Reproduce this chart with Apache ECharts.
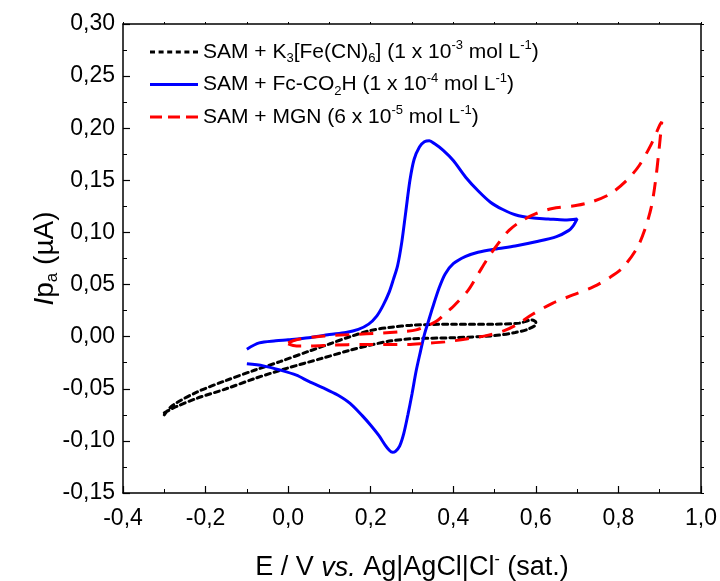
<!DOCTYPE html>
<html>
<head>
<meta charset="utf-8">
<script src="https://cdn.jsdelivr.net/npm/echarts@6/dist/echarts.min.js"></script>
<style>
  html, body { margin: 0; padding: 0; background: #fff; }
  #chart { width: 720px; height: 581px; }
</style>
</head>
<body>
<div id="chart"></div>
<script>
// Cyclic voltammograms: potential (V) vs. current (µA)
const seriesNames = ['K3[Fe(CN)6]', 'Fc-CO2H', 'MGN'];

// SAM + K3[Fe(CN)6]: forward sweep then return sweep
const ferriPotential = [-0.30, -0.28, -0.22, -0.15, -0.08, -0.02, 0.05, 0.10, 0.15, 0.20, 0.25, 0.30, 0.40, 0.50, 0.56, 0.59, 0.60,
  0.60, 0.58, 0.55, 0.50, 0.40, 0.30, 0.25, 0.20, 0.15, 0.08, 0.00, -0.08, -0.15, -0.22, -0.27, -0.30];
const ferriCurrent = [-0.075, -0.066, -0.053, -0.042, -0.032, -0.024, -0.014, -0.007, 0.000, 0.006, 0.009, 0.011, 0.012, 0.012, 0.013, 0.016, 0.014,
  0.012, 0.007, 0.004, 0.001, -0.001, -0.002, -0.004, -0.008, -0.013, -0.021, -0.030, -0.040, -0.050, -0.059, -0.067, -0.073];

// SAM + Fc-CO2H
const fcPotential = [-0.10, -0.07, -0.03, 0.00, 0.05, 0.10, 0.14, 0.17, 0.195, 0.215, 0.23, 0.245, 0.255, 0.265, 0.275, 0.285, 0.295, 0.305, 0.318, 0.330, 0.342,
  0.355, 0.375, 0.40, 0.43, 0.46, 0.49, 0.52, 0.55, 0.59, 0.63, 0.67, 0.70,
  0.69, 0.68, 0.65, 0.60, 0.55, 0.50, 0.46, 0.43, 0.40, 0.38, 0.365, 0.35, 0.34, 0.33, 0.32, 0.31, 0.30, 0.29, 0.28, 0.27, 0.26, 0.253,
  0.245, 0.235, 0.22, 0.20, 0.18, 0.15, 0.12, 0.09, 0.05, 0.02, -0.02, -0.06, -0.10];
const fcCurrent = [-0.012, -0.006, -0.004, -0.003, -0.001, 0.002, 0.004, 0.007, 0.012, 0.020, 0.030, 0.043, 0.055, 0.068, 0.090, 0.120, 0.150, 0.170, 0.182, 0.187, 0.188,
  0.185, 0.179, 0.169, 0.153, 0.140, 0.129, 0.122, 0.117, 0.114, 0.113, 0.112, 0.113,
  0.106, 0.102, 0.096, 0.091, 0.087, 0.084, 0.081, 0.077, 0.070, 0.060, 0.046, 0.028, 0.015, 0.002, -0.015, -0.033, -0.055, -0.075, -0.093, -0.105, -0.110, -0.111,
  -0.109, -0.104, -0.095, -0.085, -0.076, -0.064, -0.056, -0.050, -0.043, -0.037, -0.032, -0.028, -0.026];

// SAM + MGN
const mgnPotential = [0.00, 0.02, 0.07, 0.15, 0.23, 0.28, 0.31, 0.34, 0.36, 0.38, 0.40, 0.435, 0.46, 0.485, 0.51, 0.535, 0.565, 0.60, 0.64, 0.70, 0.74, 0.78, 0.82, 0.85, 0.88, 0.90, 0.905,
  0.898, 0.89, 0.88, 0.865, 0.845, 0.81, 0.78, 0.74, 0.69, 0.64, 0.59, 0.56, 0.525, 0.485, 0.435, 0.38, 0.33, 0.29, 0.23, 0.18, 0.11, 0.05, 0.02, 0.00];
const mgnCurrent = [-0.006, -0.003, 0.000, 0.002, 0.0035, 0.005, 0.0065, 0.011, 0.015, 0.022, 0.029, 0.044, 0.060, 0.076, 0.090, 0.102, 0.111, 0.118, 0.123, 0.126, 0.130, 0.137, 0.150, 0.164, 0.185, 0.203, 0.206,
  0.178, 0.150, 0.125, 0.104, 0.085, 0.066, 0.057, 0.048, 0.040, 0.032, 0.021, 0.013, 0.006, 0.0015, -0.002, -0.005, -0.0065, -0.0075, -0.0075, -0.0075, -0.008, -0.009, -0.009, -0.007];

const xTickValues = [-0.4, -0.2, 0.0, 0.2, 0.4, 0.6, 0.8, 1.0];
const yTickValues = [-0.15, -0.10, -0.05, 0.00, 0.05, 0.10, 0.15, 0.20, 0.25, 0.30];

const legendLabels = {
  'K3[Fe(CN)6]': '{b|SAM + K}{sub|3}{b|[Fe(CN)}{sub|6}{b|] (1 x 10}{sup|-3}{b| mol L}{sup|-1}{b|)}',
  'Fc-CO2H': '{b|SAM + Fc-CO}{sub|2}{b|H (1 x 10}{sup|-4}{b| mol L}{sup|-1}{b|)}',
  'MGN': '{b|SAM + MGN (6 x 10}{sup|-5}{b| mol L}{sup|-1}{b|)}'
};

// legend keys drawn as short line samples (dotted, solid, dashed)
const legendIcons = {
  'K3[Fe(CN)6]': 'path://M0,0h5v3h-5z M8.6,0h5v3h-5z M17.2,0h5v3h-5z M25.8,0h5v3h-5z M34.4,0h5v3h-5z M43,0h5v3h-5z',
  'Fc-CO2H': 'path://M0,0h48v3h-48z',
  'MGN': 'path://M0,0h12v3h-12z M18,0h12v3h-12z M36,0h12v3h-12z'
};

function pairs(xs, ys) { return xs.map((x, i) => [x, ys[i]]); }

const FONT = '"Liberation Sans", Arial, sans-serif';
const chart = echarts.init(document.getElementById('chart'), null, { renderer: 'canvas' });

const richText = {
  b: { fontFamily: FONT, fontSize: 21, color: '#000', lineHeight: 26, verticalAlign: 'middle' },
  sub: { fontFamily: FONT, fontSize: 13, color: '#000', lineHeight: 13, verticalAlign: 'bottom' },
  sup: { fontFamily: FONT, fontSize: 13, color: '#000', lineHeight: 13, verticalAlign: 'top' }
};

const fmtX = v => (Math.abs(v) < 1e-9 ? 0 : v).toFixed(1).replace('.', ',');
const fmtY = v => (Math.abs(v) < 1e-9 ? 0 : v).toFixed(2).replace('.', ',');

chart.setOption({
  animation: false,
  backgroundColor: '#fff',
  grid: { left: 123, top: 24, width: 578, height: 469, containLabel: false, outerBoundsMode: 'none' },
  legend: {
    orient: 'vertical',
    left: 145,
    top: 34,
    itemWidth: 48,
    itemHeight: 3,
    itemGap: 6.5,
    data: seriesNames.map(n => ({ name: n, icon: legendIcons[n] })),
    formatter: name => legendLabels[name],
    textStyle: { rich: richText }
  },
  xAxis: [
    {
      type: 'value', position: 'bottom', min: -0.4, max: 1.0, interval: 0.2,
      axisLine: { onZero: false, lineStyle: { color: '#000', width: 1.5 } },
      axisTick: { inside: true, length: 7, lineStyle: { color: '#000', width: 1.2 } },
      minorTick: { show: true, splitNumber: 2, length: 4, lineStyle: { color: '#000', width: 1 } },
      splitLine: { show: false },
      axisLabel: {
        fontFamily: FONT, fontSize: 23, color: '#000', margin: 14,
        formatter: v => xTickValues.some(t => Math.abs(t - v) < 1e-9) ? fmtX(v) : ''
      },
      name: '{b|E / V }{it|vs.}{b| Ag|AgCl|Cl}{sup|-}{b| (sat.)}',
      nameLocation: 'middle',
      nameGap: 59,
      nameMoveOverlap: false,
      nameTextStyle: {
        rich: {
          b: { fontFamily: FONT, fontSize: 27, color: '#000', lineHeight: 32, verticalAlign: 'middle' },
          it: { fontFamily: FONT, fontSize: 27, fontStyle: 'italic', color: '#000', lineHeight: 32, verticalAlign: 'middle' },
          sup: { fontFamily: FONT, fontSize: 16, color: '#000', lineHeight: 16, verticalAlign: 'top' }
        }
      }
    },
    {
      type: 'value', position: 'top', min: -0.4, max: 1.0, interval: 0.1,
      axisLine: { onZero: false, lineStyle: { color: '#000', width: 1.5 } },
      axisTick: { inside: false, length: 2, lineStyle: { color: '#000', width: 1 } },
      axisLabel: { show: false },
      splitLine: { show: false }
    }
  ],
  yAxis: [
    {
      type: 'value', position: 'left', min: -0.15, max: 0.30, interval: 0.05,
      axisLine: { onZero: false, lineStyle: { color: '#000', width: 1.5 } },
      axisTick: { inside: true, length: 7, lineStyle: { color: '#000', width: 1.2 } },
      minorTick: { show: true, splitNumber: 2, length: 4, lineStyle: { color: '#000', width: 1 } },
      splitLine: { show: false },
      axisLabel: {
        fontFamily: FONT, fontSize: 23, color: '#000', margin: 8,
        formatter: v => yTickValues.some(t => Math.abs(t - v) < 1e-9) ? fmtY(v) : ''
      },
      name: '{i|I}{b|p}{sub|a}{b| (µA)}',
      nameLocation: 'middle',
      nameRotate: 90,
      nameGap: 62,
      nameMoveOverlap: false,
      nameTextStyle: {
        rich: {
          b: { fontFamily: FONT, fontSize: 28, color: '#000', lineHeight: 32, verticalAlign: 'middle' },
          i: { fontFamily: FONT, fontSize: 28, fontStyle: 'italic', color: '#000', lineHeight: 32, verticalAlign: 'middle' },
          sub: { fontFamily: FONT, fontSize: 17, color: '#000', lineHeight: 17, verticalAlign: 'bottom' }
        }
      }
    },
    {
      type: 'value', position: 'right', min: -0.15, max: 0.30, interval: 0.025,
      axisLine: { onZero: false, lineStyle: { color: '#000', width: 1.5 } },
      axisTick: { inside: false, length: 3, lineStyle: { color: '#000', width: 1 } },
      axisLabel: { show: false },
      splitLine: { show: false }
    }
  ],
  series: [
    {
      name: seriesNames[0], type: 'line', symbol: 'none', smooth: 0.3,
      data: pairs(ferriPotential, ferriCurrent),
      lineStyle: { color: '#000', width: 3, type: [5, 4], cap: 'round' },
      itemStyle: { color: '#000' }
    },
    {
      name: seriesNames[1], type: 'line', symbol: 'none', smooth: 0.3,
      data: pairs(fcPotential, fcCurrent),
      lineStyle: { color: '#0000ff', width: 3, type: 'solid' },
      itemStyle: { color: '#0000ff' }
    },
    {
      name: seriesNames[2], type: 'line', symbol: 'none', smooth: 0.3,
      data: pairs(mgnPotential, mgnCurrent),
      lineStyle: { color: '#ff0000', width: 3, type: [14, 10] },
      itemStyle: { color: '#ff0000' }
    }
  ]
});
</script>
</body>
</html>
